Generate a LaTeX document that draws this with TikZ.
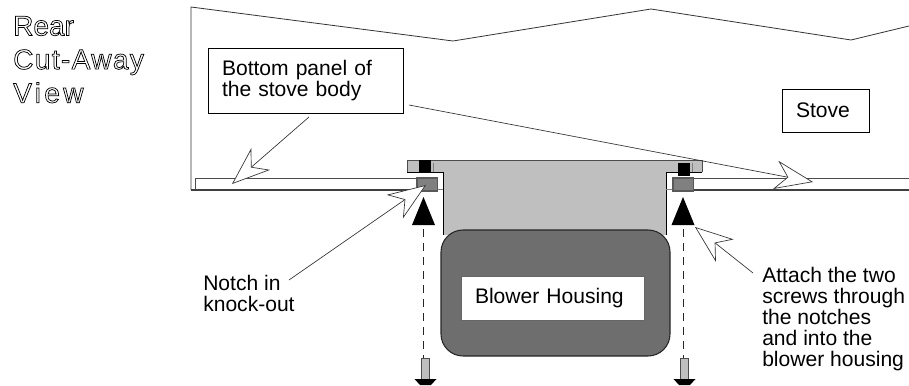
\documentclass[tikz,border=0pt]{standalone}
\usepackage{fontspec}
\setmainfont{Liberation Sans}
\newfontfamily\viewfont[LetterSpace=5]{Liberation Sans}
\newfontfamily\viewwidefont[LetterSpace=12]{Liberation Sans}
\usetikzlibrary{arrows.meta}
\newcommand{\outlined}[1]{\special{pdf:code 1 Tr 0.55 w}#1\special{pdf:code 0 Tr}}
\begin{document}
\begin{tikzpicture}[
        x=0.75pt,
        y=-0.75pt,
        callout/.style={
          -{Stealth[length=28.5pt,width=21.5pt,inset=9pt,fill=white]},
          line width=0.5pt,
          draw=black!80
        },
        labelbox/.style={
          draw=black,
          fill=white,
          line width=0.7pt,
          align=left,
          inner xsep=10.5pt,
          inner ysep=0pt,
          font=\fontsize{15.8}{16.4}\selectfont
        },
        plaintext/.style={
          anchor=north west,
          align=left,
          inner sep=0pt,
          font=\fontsize{15.8}{15.8}\selectfont
        },
        outline/.style={
          draw=black!70,
          line width=0.7pt
        },
        wall/.style={
          draw=black,
          line width=0.75pt
        }
      ]
        \useasboundingbox (0,0) rectangle (909,385);

        \node[plaintext,font=\fontsize{21}{25.2}\selectfont] (view) at (13,16) {\outlined{Rear\\\viewfont\fontsize{21}{25.2}\selectfont Cut-Away\\\viewwidefont\fontsize{21}{25.2}\selectfont View}};

        \draw[line width=0.6pt,draw=black!80] (191,190) -- (191,7) -- (453,41) -- (651,9) -- (851,40) -- (909,26);

        \fill[black!25] (407,160) rectangle (702,172);
        \fill[black!25] (443,172) rectangle (666,235);
        \draw[outline] (407,172) -- (407,160) -- (702,160) -- (702,172);
        \draw[wall] (407,172) -- (443,172) -- (443,235);
        \draw[wall] (702,172) -- (666,172) -- (666,235);

        \draw[outline] (417,178) -- (195,178) -- (195,190);
        \draw[outline] (694,178) -- (909,178);
        \draw[draw=black!75,line width=1.1pt] (191,190) -- (417,190);
        \draw[draw=black!75,line width=1.1pt] (694,190) -- (909,190);
        \draw[draw=black!50,line width=0.5pt] (437,189) -- (443,189) (666,189) -- (673,189);

        \foreach \x/\y/\n in {419/160/l,678/163/r}
          \fill[black] (\x,\y) rectangle ++(12,12.5) coordinate (screw\n);
        \foreach \x/\n in {433/l,692/r}
          \draw[draw=black!50,line width=0.5pt] (\x,163) -- (\x,172);

        \foreach \x/\n in {417/l,673/r}
          \draw[draw=black!65,fill=black!50,line width=0.9pt] (\x,178) rectangle ++(20.5,13) coordinate (notch\n);

        \foreach \x/\n in {423.5/l,683/r} {
          \fill[black] (\x,197) -- (\x+11.5,225) -- (\x-11.5,225) -- cycle;
          \coordinate (top\n) at (\x,229);
          \coordinate (end\n) at (\x,358);
          \draw[dashed,draw=black!85,line width=0.5pt,dash pattern=on 6pt off 4.5pt] (top\n) -- (end\n);
        }
        \foreach \x in {425.5,684.5} {
          \draw[draw=black!70,fill=black!25,line width=0.6pt] (\x-4,358) rectangle (\x+4,379);
          \fill[black] (\x-11,379) -- (\x+11,379) -- (\x+5.5,385) -- (\x-5.5,385) -- cycle;
        }

        \draw[draw=black!85,fill=black!57,line width=0.8pt,rounded corners=16.5pt] (441,230) rectangle (670,356);

        \node[labelbox,minimum width=137.25pt,text width=116.25pt,minimum height=33pt,draw=black!60] (blower) at (552.5,298) {Blower Housing};
        \node[labelbox,minimum width=65.25pt,text width=44.25pt,minimum height=32.25pt] (stove) at (825.5,110.5) {Stove};
        \node[labelbox,minimum width=146.25pt,text width=125.25pt,minimum height=48.75pt] (panel) at (305.5,80.5) {Bottom panel of\\the stove body};

        \node[plaintext] (notch) at (203,275) {Notch in\\knock-out};
        \node[plaintext] (attach) at (762,267) {Attach the two\\screws through\\the notches\\and into the\\blower housing};

        \coordinate (panela) at (309,117);
        \coordinate (panelb) at (409,105);
        \coordinate (notcha) at (289,280);
        \coordinate (attacha) at (753,273);
        \coordinate (tipa) at (232,184);
        \coordinate (tipb) at (813,182);
        \coordinate (tipc) at (426,185);
        \coordinate (tipd) at (695,227);

        \draw[callout] (panela) -- (tipa);
        \draw[callout] (panelb) -- (tipb);
        \draw[callout] (notcha) -- (tipc);
        \draw[callout] (attacha) -- (tipd);
      \end{tikzpicture}
\end{document}
